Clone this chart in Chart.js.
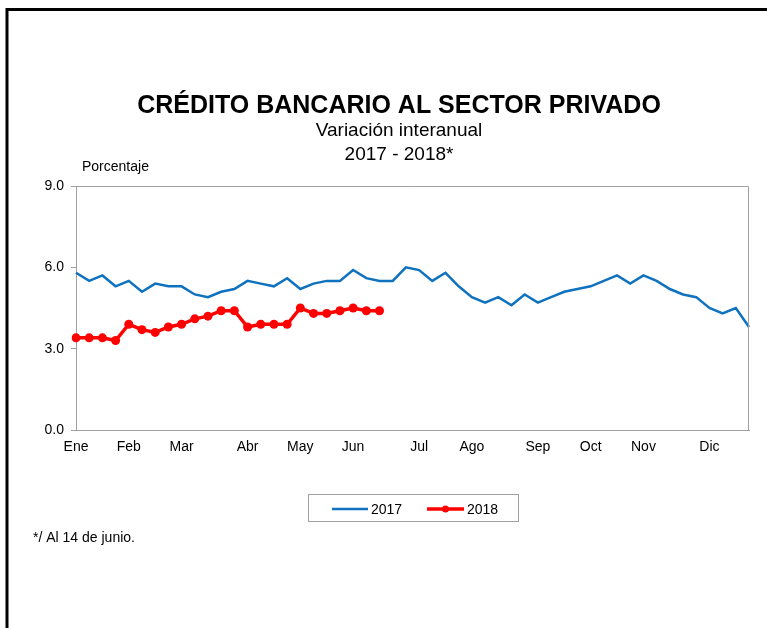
<!DOCTYPE html>
<html>
<head>
<meta charset="utf-8">
<script src="https://cdn.jsdelivr.net/npm/chart.js@4"></script>
<style>
    html, body { margin: 0; padding: 0; background: #ffffff; }
    #wrap { width: 767px; height: 628px; position: relative; }
</style>
</head>
<body>
<div id="wrap"><canvas id="creditoChart" width="767" height="628"></canvas></div>
<script>
// semanas del año; sólo se rotula la primera de cada mes
const weekLabels = [
    'Ene', '', '', '', 'Feb', '', '', '', 'Mar', '', '', '', '', 'Abr', '', '', '', 'May', '', '', '', 'Jun', '', '', '', '',
    'Jul', '', '', '', 'Ago', '', '', '', '', 'Sep', '', '', '', 'Oct', '', '', '', 'Nov', '', '', '', '', 'Dic', '', '', ''
];

const serie2017 = [
    5.8, 5.5, 5.7, 5.3, 5.5, 5.1, 5.4, 5.3, 5.3, 5.0, 4.9, 5.1, 5.2, 5.5, 5.4, 5.3, 5.6, 5.2, 5.4, 5.5, 5.5, 5.9, 5.6, 5.5, 5.5, 6.0,
    5.9, 5.5, 5.8, 5.3, 4.9, 4.7, 4.9, 4.6, 5.0, 4.7, 4.9, 5.1, 5.2, 5.3, 5.5, 5.7, 5.4, 5.7, 5.5, 5.2, 5.0, 4.9, 4.5, 4.3, 4.5, 3.8
];

const serie2018 = [
    3.4, 3.4, 3.4, 3.3, 3.9, 3.7, 3.6, 3.8, 3.9, 4.1, 4.2, 4.4, 4.4, 3.8, 3.9, 3.9, 3.9, 4.5, 4.3, 4.3, 4.4, 4.5, 4.4, 4.4
];

const yTicks = [0, 3, 6, 9];

const fontFamily = "'Liberation Sans', Arial, sans-serif";

const decoracionPlugin = {
    id: 'decoracion',
    afterDraw: function(chart) {
        const ctx = chart.ctx;
        const area = chart.chartArea;

        ctx.save();

        // marco negro exterior
        ctx.strokeStyle = '#000000';
        ctx.lineWidth = 3;
        ctx.beginPath();
        ctx.moveTo(7, 628);
        ctx.lineTo(7, 9.5);
        ctx.lineTo(767, 9.5);
        ctx.stroke();

        // borde superior y derecho del área de trazado
        ctx.strokeStyle = '#a0a0a0';
        ctx.lineWidth = 1;
        ctx.beginPath();
        ctx.moveTo(area.left, area.top + 0.5);
        ctx.lineTo(area.right - 0.5, area.top + 0.5);
        ctx.lineTo(area.right - 0.5, area.bottom);
        ctx.stroke();

        // títulos
        ctx.fillStyle = '#000000';
        ctx.textAlign = 'center';
        ctx.textBaseline = 'middle';
        ctx.font = 'bold 25px ' + fontFamily;
        ctx.fillText('CRÉDITO BANCARIO AL SECTOR PRIVADO', 399, 106);
        ctx.font = '19px ' + fontFamily;
        ctx.fillText('Variación interanual', 399, 131);
        ctx.fillText('2017 - 2018*', 399, 155);

        ctx.textAlign = 'left';
        ctx.font = '14px ' + fontFamily;
        ctx.fillText('Porcentaje', 82, 167);
        ctx.fillText('*/ Al 14 de junio.', 33, 538);

        // leyenda con recuadro
        ctx.strokeStyle = '#a0a0a0';
        ctx.lineWidth = 1;
        ctx.strokeRect(308.5, 494.5, 210, 27);

        const legendY = 509;
        const ds = chart.data.datasets;
        ctx.lineCap = 'butt';
        ctx.strokeStyle = ds[0].borderColor;
        ctx.lineWidth = ds[0].borderWidth;
        ctx.beginPath();
        ctx.moveTo(332, legendY);
        ctx.lineTo(368, legendY);
        ctx.stroke();

        ctx.strokeStyle = ds[1].borderColor;
        ctx.lineWidth = ds[1].borderWidth;
        ctx.beginPath();
        ctx.moveTo(427, legendY);
        ctx.lineTo(464, legendY);
        ctx.stroke();
        ctx.fillStyle = ds[1].pointBackgroundColor;
        ctx.beginPath();
        ctx.arc(445.5, legendY, 3.5, 0, Math.PI * 2);
        ctx.fill();

        ctx.fillStyle = '#000000';
        ctx.font = '14px ' + fontFamily;
        ctx.fillText(ds[0].label, 371, legendY + 1);
        ctx.fillText(ds[1].label, 467, legendY + 1);

        ctx.restore();
    }
};

new Chart(document.getElementById('creditoChart'), {
    type: 'line',
    data: {
        labels: weekLabels,
        datasets: [{
            label: '2017',
            data: serie2017,
            borderColor: '#0e72bf',
            backgroundColor: '#0e72bf',
            borderWidth: 2.5,
            pointRadius: 0,
            tension: 0
        }, {
            label: '2018',
            data: serie2018,
            borderColor: '#ff0000',
            backgroundColor: '#ff0000',
            pointBackgroundColor: '#ff0000',
            pointBorderColor: '#ff0000',
            borderWidth: 3.5,
            pointRadius: 4.5,
            pointBorderWidth: 0,
            tension: 0
        }]
    },
    options: {
        responsive: false,
        animation: false,
        layout: {
            padding: {
                top: 186,
                right: 18,
                bottom: 168,
                left: 0
            }
        },
        plugins: {
            legend: { display: false },
            tooltip: { enabled: false }
        },
        scales: {
            x: {
                offset: false,
                grid: { display: false },
                border: { display: true, color: '#a0a0a0', width: 1 },
                afterFit: function(scale) { scale.height = 30; },
                ticks: {
                    autoSkip: false,
                    maxRotation: 0,
                    minRotation: 0,
                    padding: 1,
                    color: '#000000',
                    font: { size: 14, family: fontFamily }
                }
            },
            y: {
                min: 0,
                max: 9,
                afterFit: function(scale) { scale.width = 76; },
                afterBuildTicks: function(scale) {
                    scale.ticks = yTicks.map(function(v) {
                        return { value: v };
                    });
                },
                grid: {
                    display: true,
                    drawOnChartArea: false,
                    drawTicks: true,
                    tickLength: 5,
                    color: '#a0a0a0'
                },
                border: { display: true, color: '#a0a0a0', width: 1 },
                ticks: {
                    padding: 7,
                    color: '#000000',
                    font: { size: 14, family: fontFamily },
                    callback: function(value) { return Number(value).toFixed(1); }
                }
            }
        }
    },
    plugins: [decoracionPlugin]
});
</script>
</body>
</html>
